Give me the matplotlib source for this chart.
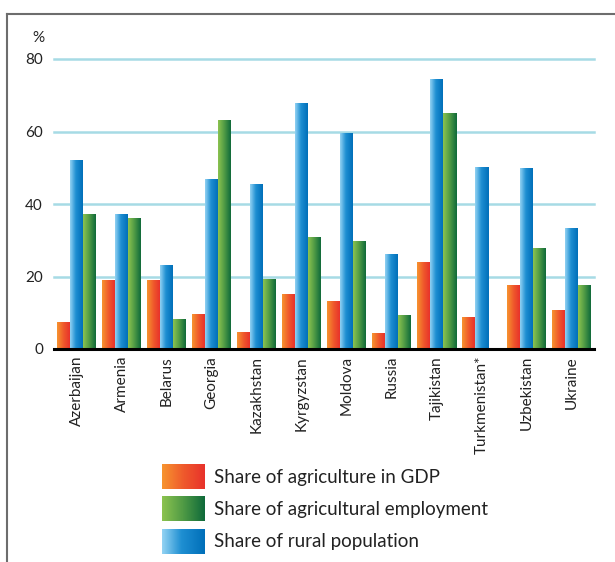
import numpy as np
import matplotlib
matplotlib.use("Agg")
import matplotlib.pyplot as plt
from matplotlib.colors import LinearSegmentedColormap
from matplotlib.lines import Line2D

plt.rcParams['font.family'] = ['Lato', 'DejaVu Sans']

countries = ["Azerbaijan", "Armenia", "Belarus", "Georgia", "Kazakhstan", "Kyrgyzstan",
             "Moldova", "Russia", "Tajikistan", "Turkmenistan*", "Uzbekistan", "Ukraine"]
gdp_share = [7.4, 19.0, 19.0, 9.6, 4.7, 15.1, 13.2, 4.3, 23.9, 8.7, 17.6, 10.7]
rural_share = [52.1, 37.2, 23.2, 46.9, 45.5, 67.8, 59.5, 26.1, 74.4, 50.1, 49.8, 33.3]
employment_share = [37.2, 36.1, 8.3, 63.3, 19.3, 30.8, 29.7, 9.5, 65.0, np.nan, 27.8, 17.6]
y_ticks = [0, 20, 40, 60, 80]
legend_labels = ["Share of agriculture in GDP", "Share of agricultural employment",
                 "Share of rural population"]

cm_gdp = LinearSegmentedColormap.from_list("gdp", ["#f7942f", "#ef5a2c", "#e8322b"])
cm_emp = LinearSegmentedColormap.from_list("emp", ["#8cc34f", "#4f9a45", "#0f6a3a"])
cm_rur = LinearSegmentedColormap.from_list("rur", [(0, "#93d3f3"), (0.45, "#1f8fd2"), (1, "#006fb9")])

fig = plt.figure(figsize=(6.15, 5.62), dpi=100)
W, H = 615, 562

# outer frame lines
fig.add_artist(Line2D([7/W, 7/W], [0, 1 - 14/H], transform=fig.transFigure, color="#6d6d6d", lw=1.5))
fig.add_artist(Line2D([7/W, 1.0], [1 - 14/H, 1 - 14/H], transform=fig.transFigure, color="#6d6d6d", lw=1.5))

ax = fig.add_axes([54/W, 1 - 349/H, 540/W, 290/H])
ax.set_xlim(-0.5, len(countries) - 0.5)
ax.set_ylim(0, 80)
for s in ["top", "right", "left"]:
    ax.spines[s].set_visible(False)
ax.spines["bottom"].set_linewidth(2.2)
ax.spines["bottom"].set_color("black")
ax.spines["bottom"].set_zorder(5)
ax.set_yticks(y_ticks)
ax.set_yticklabels([str(t) for t in y_ticks], fontsize=11, color="#222")
ax.tick_params(axis="y", length=0, pad=8)
ax.tick_params(axis="x", length=0, pad=5)
for t in y_ticks[1:]:
    ax.axhline(t, color="#a6dbe5", lw=1.8, zorder=0, clip_on=False)

x = np.arange(len(countries))
bw = 13 / 45
grad = np.linspace(0, 1, 64).reshape(1, -1)
series = [(gdp_share, cm_gdp, -1), (rural_share, cm_rur, 0), (employment_share, cm_emp, 1)]
for vals, cmap, off in series:
    bars = ax.bar(x + off * bw, vals, width=bw, color="none", edgecolor="none", zorder=2)
    for b, v in zip(bars, vals):
        if np.isnan(v):
            continue
        x0, y0 = b.get_x(), b.get_y()
        im = ax.imshow(grad, cmap=cmap, extent=(x0, x0 + b.get_width(), y0, y0 + b.get_height()),
                       aspect="auto", interpolation="bicubic", zorder=2)
        im.set_clip_path(b)
ax.set_xlim(-0.5, len(countries) - 0.5)
ax.set_ylim(0, 80)
ax.set_xticks(x)
ax.set_xticklabels(countries, rotation=90, fontsize=11, color="#222")

fig.text(38/W, 1 - 38/H, "%", fontsize=11, color="#222", ha="center", va="center")

# legend
lax = fig.add_axes([0, 0, 1, 1], facecolor="none")
lax.set_xlim(0, W)
lax.set_ylim(H, 0)
lax.axis("off")
leg_items = [(cm_gdp, legend_labels[0], 464), (cm_emp, legend_labels[1], 496), (cm_rur, legend_labels[2], 529)]
for cmap, lab, ytop in leg_items:
    lax.imshow(grad, cmap=cmap, extent=(162, 205, ytop + 25, ytop), aspect="auto", interpolation="bicubic")
    lax.text(214, ytop + 13, lab, fontsize=13.5, color="#222", va="center", ha="left")
lax.set_xlim(0, W)
lax.set_ylim(H, 0)

fig.savefig("out.png", dpi=100)
